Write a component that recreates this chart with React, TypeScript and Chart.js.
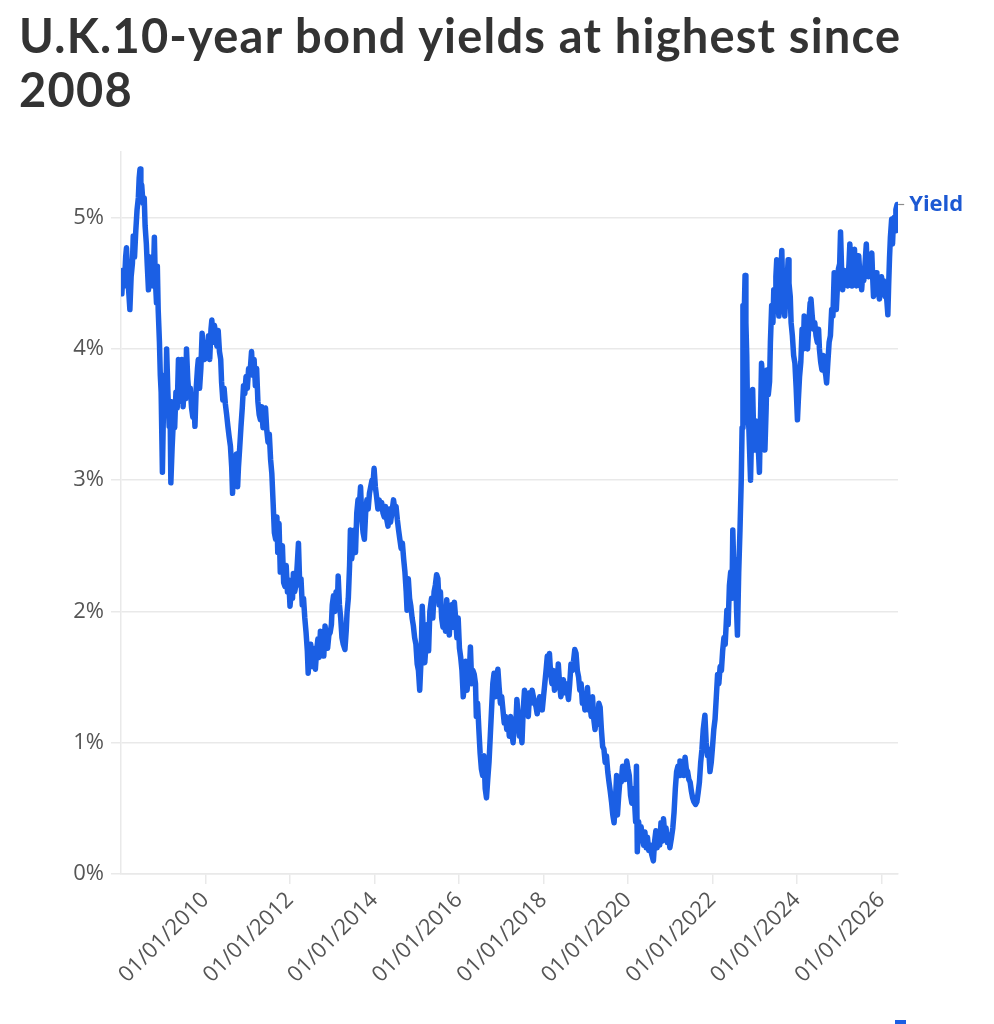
import React, { useEffect, useRef } from "react";
import { Chart, registerables } from "chart.js";

Chart.register(...registerables);

const TITLE_LINES = ["U.K.10-year bond yields at highest since", "2008"];
const SERIES_LABEL = "Yield";
const X_TICK_YEARS = [2010, 2012, 2014, 2016, 2018, 2020, 2022, 2024, 2026];
const Y_TICKS = [0, 1, 2, 3, 4, 5];
const X_MIN = 2008;
const X_MAX = 2026.39;
const Y_MIN = 0;
const Y_MAX = 5.5;

// [decimal year, yield %]
const YIELD_SERIES: [number, number][] = [
  [2008.0, 4.5], [2008.02, 4.42], [2008.05, 4.6], [2008.08, 4.48], [2008.11, 4.7], [2008.13, 4.77],
  [2008.16, 4.55], [2008.19, 4.4], [2008.21, 4.3], [2008.24, 4.55], [2008.27, 4.65], [2008.29, 4.86],
  [2008.32, 4.7], [2008.35, 4.9], [2008.38, 5.06], [2008.41, 5.15], [2008.43, 5.3], [2008.45, 5.37],
  [2008.47, 5.2], [2008.49, 5.25], [2008.52, 5.11], [2008.55, 5.15], [2008.57, 4.94], [2008.6, 4.8],
  [2008.62, 4.65], [2008.65, 4.45], [2008.68, 4.7], [2008.7, 4.55], [2008.73, 4.6], [2008.76, 4.48],
  [2008.79, 4.85], [2008.81, 4.55], [2008.84, 4.35], [2008.86, 4.63], [2008.88, 4.3], [2008.91, 4.05],
  [2008.93, 3.8], [2008.95, 3.67], [2008.98, 3.06], [2009.0, 3.45], [2009.03, 3.8], [2009.06, 3.55],
  [2009.08, 4.0], [2009.11, 3.67], [2009.14, 3.41], [2009.16, 3.6], [2009.18, 2.98], [2009.21, 3.25],
  [2009.24, 3.46], [2009.27, 3.4], [2009.3, 3.67], [2009.33, 3.55], [2009.36, 3.92], [2009.39, 3.75],
  [2009.42, 3.6], [2009.44, 3.92], [2009.47, 3.56], [2009.5, 3.75], [2009.53, 3.62], [2009.55, 4.0],
  [2009.58, 3.77], [2009.61, 3.65], [2009.64, 3.7], [2009.67, 3.55], [2009.7, 3.48], [2009.72, 3.65],
  [2009.75, 3.41], [2009.78, 3.7], [2009.81, 3.85], [2009.83, 3.92], [2009.86, 3.7], [2009.89, 3.85],
  [2009.92, 4.12], [2009.95, 3.95], [2009.98, 3.92], [2010.01, 4.05], [2010.04, 3.95], [2010.07, 4.1],
  [2010.1, 3.92], [2010.13, 4.15], [2010.15, 4.22], [2010.18, 4.05], [2010.21, 4.18], [2010.24, 4.12],
  [2010.27, 4.02], [2010.3, 4.14], [2010.33, 3.98], [2010.36, 3.92], [2010.38, 3.75], [2010.41, 3.61],
  [2010.44, 3.7], [2010.47, 3.58], [2010.5, 3.5], [2010.53, 3.41], [2010.56, 3.33], [2010.59, 3.26],
  [2010.62, 3.1], [2010.64, 2.9], [2010.67, 3.15], [2010.7, 3.05], [2010.73, 3.2], [2010.76, 2.95],
  [2010.78, 3.1], [2010.81, 3.25], [2010.84, 3.41], [2010.87, 3.55], [2010.9, 3.72], [2010.93, 3.66],
  [2010.96, 3.79], [2010.99, 3.7], [2011.02, 3.85], [2011.05, 3.8], [2011.09, 3.98], [2011.12, 3.8],
  [2011.15, 3.92], [2011.18, 3.72], [2011.21, 3.85], [2011.24, 3.6], [2011.27, 3.5], [2011.3, 3.46],
  [2011.33, 3.56], [2011.36, 3.4], [2011.39, 3.52], [2011.42, 3.55], [2011.45, 3.38], [2011.48, 3.29],
  [2011.51, 3.35], [2011.54, 3.16], [2011.57, 3.05], [2011.6, 2.83], [2011.63, 2.6], [2011.66, 2.55],
  [2011.69, 2.72], [2011.71, 2.45], [2011.74, 2.67], [2011.77, 2.3], [2011.8, 2.4], [2011.82, 2.5],
  [2011.85, 2.22], [2011.88, 2.19], [2011.91, 2.35], [2011.94, 2.15], [2011.97, 2.24], [2012.0, 2.04],
  [2012.03, 2.15], [2012.06, 2.1], [2012.08, 2.29], [2012.11, 2.15], [2012.14, 2.2], [2012.17, 2.35],
  [2012.2, 2.52], [2012.23, 2.2], [2012.26, 2.25], [2012.29, 2.05], [2012.32, 2.1], [2012.35, 1.95],
  [2012.38, 1.84], [2012.41, 1.7], [2012.43, 1.53], [2012.46, 1.7], [2012.49, 1.75], [2012.52, 1.58],
  [2012.55, 1.72], [2012.57, 1.63], [2012.6, 1.56], [2012.63, 1.7], [2012.66, 1.79], [2012.69, 1.65],
  [2012.72, 1.85], [2012.75, 1.72], [2012.78, 1.8], [2012.8, 1.66], [2012.83, 1.89], [2012.86, 1.78],
  [2012.89, 1.72], [2012.92, 1.82], [2012.95, 1.84], [2012.98, 1.9], [2013.0, 2.05], [2013.03, 2.12],
  [2013.06, 2.0], [2013.09, 2.15], [2013.12, 2.03], [2013.14, 2.27], [2013.17, 2.05], [2013.2, 1.95],
  [2013.23, 1.8], [2013.26, 1.75], [2013.3, 1.71], [2013.33, 1.85], [2013.35, 1.99], [2013.38, 2.1],
  [2013.41, 2.35], [2013.43, 2.62], [2013.46, 2.4], [2013.49, 2.5], [2013.52, 2.62], [2013.55, 2.45],
  [2013.58, 2.75], [2013.61, 2.85], [2013.64, 2.8], [2013.67, 2.95], [2013.7, 2.7], [2013.73, 2.6],
  [2013.76, 2.55], [2013.79, 2.75], [2013.82, 2.85], [2013.85, 2.78], [2013.88, 2.9], [2013.91, 2.95],
  [2013.94, 3.0], [2013.96, 2.95], [2013.99, 3.09], [2014.02, 2.95], [2014.05, 2.87], [2014.08, 2.78],
  [2014.11, 2.85], [2014.14, 2.8], [2014.17, 2.83], [2014.2, 2.75], [2014.23, 2.72], [2014.26, 2.8],
  [2014.29, 2.7], [2014.32, 2.65], [2014.35, 2.78], [2014.38, 2.68], [2014.41, 2.75], [2014.45, 2.85],
  [2014.48, 2.78], [2014.51, 2.8], [2014.54, 2.7], [2014.57, 2.62], [2014.6, 2.55], [2014.63, 2.48],
  [2014.66, 2.52], [2014.69, 2.4], [2014.72, 2.3], [2014.75, 2.15], [2014.77, 2.01], [2014.8, 2.25],
  [2014.83, 2.1], [2014.86, 2.04], [2014.89, 1.95], [2014.92, 1.89], [2014.95, 1.8], [2014.98, 1.75],
  [2015.01, 1.6], [2015.04, 1.55], [2015.07, 1.4], [2015.1, 1.62], [2015.13, 2.04], [2015.16, 1.8],
  [2015.19, 1.61], [2015.22, 1.75], [2015.25, 1.9], [2015.28, 1.7], [2015.31, 2.0], [2015.35, 2.1],
  [2015.38, 1.95], [2015.41, 2.15], [2015.44, 2.2], [2015.47, 2.28], [2015.5, 2.25], [2015.53, 2.05],
  [2015.56, 2.15], [2015.59, 1.95], [2015.62, 1.88], [2015.65, 2.0], [2015.68, 1.85], [2015.71, 2.09],
  [2015.74, 1.9], [2015.77, 1.82], [2015.8, 2.0], [2015.83, 2.05], [2015.86, 1.88], [2015.89, 2.07],
  [2015.92, 1.95], [2015.95, 1.8], [2015.98, 1.95], [2016.01, 1.72], [2016.04, 1.65], [2016.07, 1.55],
  [2016.1, 1.35], [2016.13, 1.45], [2016.16, 1.62], [2016.19, 1.4], [2016.22, 1.5], [2016.25, 1.58],
  [2016.27, 1.73], [2016.3, 1.45], [2016.33, 1.55], [2016.36, 1.52], [2016.39, 1.45], [2016.41, 1.2],
  [2016.44, 1.3], [2016.47, 1.1], [2016.5, 0.92], [2016.53, 0.8], [2016.56, 0.75], [2016.59, 0.9],
  [2016.62, 0.65], [2016.65, 0.58], [2016.68, 0.72], [2016.71, 0.85], [2016.74, 1.05], [2016.77, 1.25],
  [2016.8, 1.45], [2016.83, 1.53], [2016.86, 1.35], [2016.89, 1.5], [2016.92, 1.56], [2016.95, 1.42],
  [2016.98, 1.3], [2017.01, 1.35], [2017.04, 1.25], [2017.07, 1.15], [2017.1, 1.2], [2017.13, 1.1],
  [2017.16, 1.18], [2017.19, 1.05], [2017.22, 1.2], [2017.25, 1.08], [2017.28, 1.0], [2017.31, 1.15],
  [2017.34, 1.1], [2017.37, 1.33], [2017.4, 1.2], [2017.43, 1.05], [2017.46, 1.1], [2017.49, 1.0],
  [2017.52, 1.25], [2017.55, 1.4], [2017.58, 1.35], [2017.61, 1.25], [2017.64, 1.2], [2017.67, 1.38],
  [2017.7, 1.3], [2017.73, 1.4], [2017.76, 1.35], [2017.79, 1.3], [2017.82, 1.28], [2017.85, 1.22],
  [2017.88, 1.3], [2017.91, 1.35], [2017.94, 1.3], [2017.97, 1.25], [2018.0, 1.35], [2018.03, 1.45],
  [2018.06, 1.55], [2018.09, 1.66], [2018.12, 1.6], [2018.14, 1.68], [2018.17, 1.52], [2018.2, 1.45],
  [2018.23, 1.55], [2018.26, 1.4], [2018.29, 1.48], [2018.32, 1.42], [2018.35, 1.6], [2018.38, 1.45],
  [2018.41, 1.35], [2018.44, 1.4], [2018.47, 1.48], [2018.5, 1.38], [2018.53, 1.45], [2018.56, 1.4],
  [2018.59, 1.33], [2018.62, 1.45], [2018.65, 1.6], [2018.68, 1.55], [2018.71, 1.62], [2018.74, 1.71],
  [2018.77, 1.68], [2018.8, 1.55], [2018.83, 1.5], [2018.86, 1.4], [2018.89, 1.45], [2018.92, 1.3],
  [2018.95, 1.35], [2018.98, 1.25], [2019.01, 1.3], [2019.04, 1.42], [2019.07, 1.25], [2019.1, 1.28],
  [2019.13, 1.2], [2019.16, 1.35], [2019.19, 1.18], [2019.22, 1.1], [2019.25, 1.2], [2019.28, 1.14],
  [2019.31, 1.3], [2019.34, 1.27], [2019.37, 1.1], [2019.4, 0.97], [2019.43, 0.95], [2019.46, 0.85],
  [2019.49, 0.9], [2019.52, 0.78], [2019.55, 0.7], [2019.58, 0.63], [2019.61, 0.55], [2019.64, 0.45],
  [2019.67, 0.39], [2019.7, 0.55], [2019.73, 0.75], [2019.75, 0.45], [2019.78, 0.6], [2019.81, 0.72],
  [2019.84, 0.7], [2019.87, 0.82], [2019.9, 0.78], [2019.93, 0.72], [2019.97, 0.86], [2020.0, 0.8],
  [2020.03, 0.75], [2020.06, 0.6], [2020.09, 0.54], [2020.12, 0.65], [2020.15, 0.58], [2020.18, 0.4],
  [2020.2, 0.82], [2020.22, 0.17], [2020.25, 0.4], [2020.28, 0.3], [2020.31, 0.36], [2020.34, 0.27],
  [2020.37, 0.22], [2020.4, 0.32], [2020.43, 0.2], [2020.46, 0.28], [2020.49, 0.18], [2020.53, 0.22],
  [2020.56, 0.15], [2020.6, 0.1], [2020.63, 0.25], [2020.66, 0.33], [2020.69, 0.2], [2020.72, 0.28],
  [2020.75, 0.22], [2020.78, 0.39], [2020.81, 0.25], [2020.84, 0.42], [2020.87, 0.3], [2020.9, 0.35],
  [2020.93, 0.24], [2020.96, 0.3], [2020.99, 0.2], [2021.03, 0.28], [2021.06, 0.35], [2021.09, 0.47],
  [2021.12, 0.65], [2021.15, 0.78], [2021.18, 0.82], [2021.21, 0.75], [2021.23, 0.86], [2021.26, 0.78],
  [2021.29, 0.82], [2021.32, 0.75], [2021.35, 0.89], [2021.38, 0.8], [2021.41, 0.78], [2021.44, 0.72],
  [2021.47, 0.7], [2021.5, 0.63], [2021.53, 0.58], [2021.56, 0.55], [2021.6, 0.53], [2021.63, 0.55],
  [2021.66, 0.62], [2021.69, 0.7], [2021.72, 0.85], [2021.75, 0.95], [2021.78, 1.1], [2021.82, 1.21],
  [2021.85, 1.0], [2021.88, 0.9], [2021.91, 0.95], [2021.94, 0.78], [2021.97, 0.85], [2022.0, 0.97],
  [2022.03, 1.1], [2022.06, 1.18], [2022.09, 1.35], [2022.12, 1.52], [2022.15, 1.45], [2022.18, 1.58],
  [2022.21, 1.55], [2022.24, 1.7], [2022.27, 1.8], [2022.3, 1.75], [2022.34, 2.01], [2022.37, 1.9],
  [2022.4, 2.2], [2022.43, 2.3], [2022.46, 2.1], [2022.48, 2.62], [2022.51, 2.25], [2022.54, 2.4],
  [2022.57, 2.0], [2022.59, 1.82], [2022.62, 2.3], [2022.65, 2.62], [2022.68, 3.0], [2022.7, 3.4],
  [2022.72, 4.33], [2022.74, 4.1], [2022.77, 4.56], [2022.79, 4.2], [2022.81, 3.95], [2022.83, 3.49],
  [2022.86, 3.4], [2022.88, 3.2], [2022.9, 3.0], [2022.93, 3.44], [2022.95, 3.69], [2022.97, 3.4],
  [2023.0, 3.23], [2023.03, 3.45], [2023.06, 3.3], [2023.09, 3.2], [2023.11, 3.06], [2023.14, 3.55],
  [2023.16, 3.89], [2023.19, 3.75], [2023.21, 3.4], [2023.24, 3.23], [2023.27, 3.55], [2023.29, 3.84],
  [2023.32, 3.65], [2023.35, 3.75], [2023.37, 4.05], [2023.4, 4.33], [2023.43, 4.2], [2023.45, 4.45],
  [2023.48, 4.35], [2023.5, 4.55], [2023.52, 4.68], [2023.55, 4.35], [2023.57, 4.25], [2023.6, 4.5],
  [2023.62, 4.6], [2023.64, 4.75], [2023.66, 4.45], [2023.69, 4.3], [2023.71, 4.25], [2023.74, 4.45],
  [2023.77, 4.55], [2023.79, 4.68], [2023.81, 4.5], [2023.84, 4.4], [2023.86, 4.2], [2023.89, 4.1],
  [2023.92, 3.95], [2023.95, 3.89], [2023.98, 3.7], [2024.01, 3.46], [2024.03, 3.6], [2024.06, 3.79],
  [2024.09, 3.9], [2024.12, 4.15], [2024.15, 4.0], [2024.17, 4.25], [2024.2, 4.05], [2024.22, 4.1],
  [2024.25, 4.0], [2024.28, 4.2], [2024.31, 4.35], [2024.33, 4.38], [2024.36, 4.25], [2024.39, 4.15],
  [2024.42, 4.2], [2024.45, 4.1], [2024.48, 4.05], [2024.51, 4.15], [2024.53, 4.0], [2024.56, 3.9],
  [2024.59, 3.84], [2024.62, 3.95], [2024.65, 3.85], [2024.68, 3.8], [2024.7, 3.74], [2024.73, 3.9],
  [2024.76, 4.05], [2024.79, 4.1], [2024.82, 4.3], [2024.85, 4.25], [2024.88, 4.58], [2024.9, 4.35],
  [2024.93, 4.3], [2024.96, 4.5], [2024.98, 4.61], [2025.01, 4.65], [2025.03, 4.89], [2025.06, 4.55],
  [2025.08, 4.45], [2025.11, 4.6], [2025.14, 4.5], [2025.17, 4.56], [2025.2, 4.48], [2025.23, 4.65],
  [2025.25, 4.8], [2025.28, 4.6], [2025.3, 4.48], [2025.33, 4.62], [2025.36, 4.76], [2025.38, 4.55],
  [2025.41, 4.48], [2025.44, 4.6], [2025.46, 4.71], [2025.49, 4.55], [2025.51, 4.5], [2025.53, 4.45],
  [2025.56, 4.6], [2025.58, 4.52], [2025.61, 4.65], [2025.64, 4.8], [2025.66, 4.62], [2025.69, 4.55],
  [2025.72, 4.65], [2025.74, 4.7], [2025.77, 4.73], [2025.79, 4.55], [2025.81, 4.4], [2025.84, 4.5],
  [2025.87, 4.58], [2025.89, 4.55], [2025.92, 4.45], [2025.95, 4.38], [2025.97, 4.5], [2026.0, 4.55],
  [2026.03, 4.45], [2026.05, 4.52], [2026.08, 4.4], [2026.1, 4.48], [2026.13, 4.35], [2026.15, 4.26],
  [2026.17, 4.5], [2026.19, 4.7], [2026.21, 4.85], [2026.24, 4.99], [2026.26, 4.8], [2026.28, 4.95],
  [2026.3, 5.0], [2026.32, 4.9], [2026.34, 5.06], [2026.37, 5.1],
];

const LINE_COLOR = "#1b5fe4";
const LABEL_COLOR = "#1d59d3";
const GRID_COLOR = "#e9e9e9";
const TICK_COLOR = "#555555";
const TICK_FONT = { family: "'Open Sans', sans-serif", size: 22 };

const endLabelPlugin = {
  id: "endLabel",
  afterDatasetsDraw(chart: any) {
    const meta = chart.getDatasetMeta(0);
    const pt = meta.data[meta.data.length - 1];
    if (!pt) return;
    const ctx = chart.ctx;
    ctx.save();
    ctx.strokeStyle = "#8c8c8c";
    ctx.lineWidth = 1.2;
    ctx.beginPath();
    ctx.moveTo(pt.x + 1, pt.y);
    ctx.lineTo(pt.x + 7, pt.y);
    ctx.stroke();
    ctx.fillStyle = LABEL_COLOR;
    ctx.font = "700 22px 'Open Sans', sans-serif";
    ctx.textBaseline = "middle";
    ctx.textAlign = "left";
    ctx.fillText(SERIES_LABEL, pt.x + 12, pt.y);
    ctx.restore();
  },
};

export default function App() {
  const canvasRef = useRef<HTMLCanvasElement | null>(null);

  useEffect(() => {
    if (!canvasRef.current) return;
    const chart = new Chart(canvasRef.current, {
      type: "line",
      data: {
        datasets: [
          {
            label: SERIES_LABEL,
            data: YIELD_SERIES.map(([x, y]) => ({ x, y })),
            borderColor: LINE_COLOR,
            backgroundColor: LINE_COLOR,
            borderWidth: 5.5,
            borderJoinStyle: "round",
            borderCapStyle: "round",
            pointRadius: 0,
            tension: 0,
            fill: false,
          },
        ],
      },
      options: {
        responsive: false,
        animation: false,
        events: [],
        layout: { padding: { top: 152, right: 96, left: 0, bottom: 0 } },
        plugins: {
          legend: { display: false },
          tooltip: { enabled: false },
          title: { display: false },
        },
        scales: {
          x: {
            type: "linear",
            min: X_MIN,
            max: X_MAX,
            afterBuildTicks: (scale: any) => {
              scale.ticks = X_TICK_YEARS.map((v) => ({ value: v }));
            },
            afterFit: (scale: any) => {
              scale.height = 150;
            },
            grid: {
              drawOnChartArea: false,
              drawTicks: true,
              tickLength: 10,
              color: GRID_COLOR,
              lineWidth: 1.5,
            },
            border: { display: true, color: GRID_COLOR, width: 1.5 },
            ticks: {
              autoSkip: false,
              minRotation: 45,
              maxRotation: 45,
              padding: 3,
              color: TICK_COLOR,
              font: TICK_FONT,
              callback: (v: any) => "01/01/" + v,
            },
          },
          y: {
            type: "linear",
            min: Y_MIN,
            max: Y_MAX,
            afterBuildTicks: (scale: any) => {
              scale.ticks = Y_TICKS.map((v) => ({ value: v }));
            },
            afterFit: (scale: any) => {
              scale.width = 121;
            },
            grid: {
              color: GRID_COLOR,
              lineWidth: 1.5,
              tickLength: 10,
            },
            border: { display: true, color: GRID_COLOR, width: 1.5 },
            ticks: {
              padding: 7,
              color: TICK_COLOR,
              font: TICK_FONT,
              callback: (v: any) => v + "%",
            },
          },
        },
      },
      plugins: [endLabelPlugin],
    });
    return () => chart.destroy();
  }, []);

  return (
    <div
      style={{
        position: "absolute",
        left: 0,
        top: 0,
        width: 994,
        height: 1024,
        background: "#ffffff",
        overflow: "hidden",
      }}
    >
      <canvas
        ref={canvasRef}
        width={994}
        height={1024}
        style={{ position: "absolute", left: 0, top: 0, width: 994, height: 1024 }}
      />
      <div
        style={{
          position: "absolute",
          left: 19,
          top: 8,
          fontFamily: "Lato, sans-serif",
          fontWeight: 700,
          fontSize: 47,
          letterSpacing: "1.2px",
          lineHeight: "54px",
          color: "#333333",
          whiteSpace: "nowrap",
        }}
      >
        {TITLE_LINES.map((line, i) => (
          <div key={i}>{line}</div>
        ))}
      </div>
      <div
        style={{
          position: "absolute",
          left: 895,
          top: 1020,
          width: 11,
          height: 6,
          background: LINE_COLOR,
        }}
      />
    </div>
  );
}
